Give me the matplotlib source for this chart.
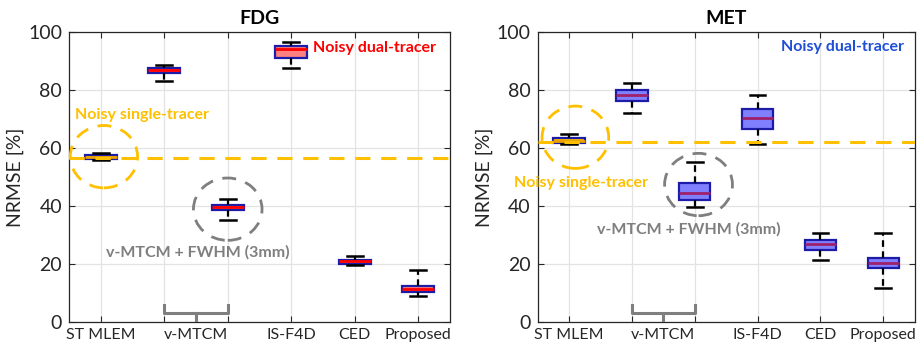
import matplotlib.pyplot as plt
from matplotlib.patches import Ellipse

plt.rcParams['font.family'] = ['Lato', 'DejaVu Sans']

# box statistics per method: [whislo, q1, med, q3, whishi]
methods = ['ST MLEM', 'v-MTCM', 'v-MTCM + FWHM', 'IS-F4D', 'CED', 'Proposed']
fdg_stats = [
    [55.8, 56.1, 56.8, 57.5, 58.2],
    [83.0, 85.9, 86.8, 87.6, 88.6],
    [35.3, 38.5, 39.5, 40.5, 42.5],
    [87.7, 91.0, 94.0, 95.1, 96.6],
    [19.5, 20.1, 20.9, 21.5, 22.6],
    [8.9, 10.2, 11.4, 12.3, 17.8],
]
met_stats = [
    [61.3, 61.6, 62.5, 63.6, 64.7],
    [72.2, 76.2, 78.3, 80.1, 82.3],
    [39.6, 42.1, 44.6, 47.8, 55.3],
    [61.3, 66.6, 70.5, 73.3, 78.3],
    [21.5, 24.7, 26.9, 28.3, 30.6],
    [11.6, 18.7, 20.4, 22.1, 30.6],
]
fdg_single_level = 56.5
met_single_level = 62.0

tick_labels = ['ST MLEM', '', '', 'IS-F4D', 'CED', 'Proposed']

ORANGE = '#ffc000'
GRAY = '#7f7f7f'
EDGE = '#1c1ca8'
DARK = '#262626'


def draw_panel(ax, stats, title, fill, median_color, dual_color, single_level,
               dual_xy, single_xy, fwhm_xy, gray_center, orange_center):
    bxp_stats = []
    for name, s in zip(methods, stats):
        bxp_stats.append(dict(label=name, whislo=s[0], q1=s[1], med=s[2],
                              q3=s[3], whishi=s[4], fliers=[]))
    parts = ax.bxp(bxp_stats, positions=range(1, 7), widths=0.5,
                   patch_artist=True, showfliers=False,
                   whiskerprops=dict(color='black', lw=1.6, ls=(0, (3, 2))),
                   capprops=dict(color='black', lw=1.8),
                   medianprops=dict(color=median_color, lw=2.0),
                   boxprops=dict(edgecolor=EDGE, lw=1.6), zorder=3)
    for i, b in enumerate(parts['boxes']):
        b.set_facecolor(ORANGE if i == 0 else fill)
    parts['medians'][0].set_color('#e8a000')

    # single-tracer reference level
    ax.axhline(single_level, color=ORANGE, ls=(0, (5, 3.5)), lw=2.2, zorder=4)

    ax.add_patch(Ellipse(orange_center, 1.06, 21.5, fill=False, ec=ORANGE,
                         lw=2.0, ls=(0, (5, 3.5)), zorder=5, clip_on=False))
    ax.add_patch(Ellipse(gray_center, 1.08, 21.5, fill=False, ec=GRAY,
                         lw=2.0, ls=(0, (5, 3.5)), zorder=5))

    # bracket grouping the two v-MTCM variants
    ax.plot([2, 2, 3, 3], [5.8, 3.0, 3.0, 5.8], color=GRAY, lw=2.2,
            zorder=5, solid_joinstyle='round')
    ax.plot([2.5, 2.5], [3.0, 0], color=GRAY, lw=2.2, zorder=5)

    ax.text(*dual_xy, 'Noisy dual-tracer', color=dual_color, fontsize=11.5,
            fontweight='bold', ha='left', va='center')
    ax.text(*single_xy, 'Noisy single-tracer', color=ORANGE, fontsize=11.5,
            fontweight='bold', ha='left', va='center', clip_on=False)
    ax.text(*fwhm_xy, 'v-MTCM + FWHM (3mm)', color=GRAY, fontsize=11.5,
            fontweight='bold', ha='left', va='center')

    ax.set_xlim(0.5, 6.5)
    ax.set_ylim(0, 100)
    ax.set_xticks(range(1, 7))
    ax.set_xticklabels(tick_labels)
    ax.set_xticks([2.5], labels=['v-MTCM'], minor=True)
    ax.set_yticks(range(0, 101, 20))
    ax.tick_params(which='both', direction='in', top=True, right=True,
                   length=4, labelsize=14, colors=DARK, pad=5)
    ax.tick_params(axis='x', which='both', labelsize=11.5, pad=4)
    ax.tick_params(axis='x', which='minor', length=0, top=False)
    ax.grid(True, color='#e3e3e3', lw=0.9, zorder=0)
    ax.set_axisbelow(True)
    for sp in ax.spines.values():
        sp.set_color(DARK)
        sp.set_linewidth(0.9)
    ax.set_ylabel('NRMSE [%]', fontsize=14, color=DARK, labelpad=3)
    ax.set_title(title, fontsize=14, fontweight='bold', pad=6)


fig = plt.figure(figsize=(9.21, 3.45), dpi=100)
ax1 = fig.add_axes([0.0749, 0.0667, 0.4137, 0.8406])
ax2 = fig.add_axes([0.5838, 0.0667, 0.4093, 0.8406])

draw_panel(ax1, fdg_stats, 'FDG', '#ff8080', '#ff0000', '#ff0000',
           fdg_single_level, (4.35, 94.5), (0.6, 71.5), (1.08, 24.1),
           (3.0, 38.9), (1.05, 57.0))
draw_panel(ax2, met_stats, 'MET', '#8080ff', '#a0206a', '#1f4fd6',
           met_single_level, (4.38, 94.7), (0.13, 48.0), (1.44, 32.1),
           (3.06, 47.4), (1.1, 63.7))

fig.savefig('out.png', dpi=100)
